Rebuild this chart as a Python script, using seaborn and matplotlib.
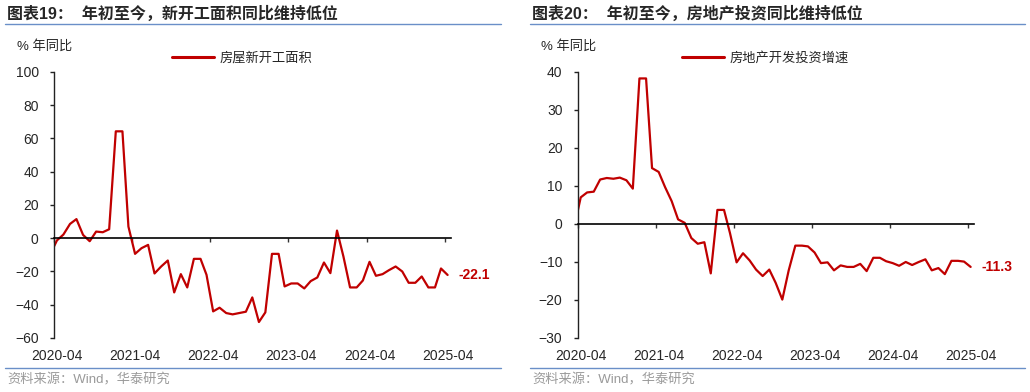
import matplotlib
matplotlib.use("Agg")
import matplotlib.pyplot as plt
import matplotlib.dates as mdates
import matplotlib.transforms as mtransforms
from matplotlib.lines import Line2D
import numpy as np
import pandas as pd
import seaborn as sns

# monthly single-month yoy, Jan/Feb share the combined value
months = pd.date_range("2020-03-01", "2025-04-01", freq="MS")

new_starts = [
    -9.5, -1.3, 2.2, 8.6, 11.5, 2.0, -1.8, 4.0, 3.6, 5.4,
    64.3, 64.3, 7.0, -9.4, -6.0, -4.0, -21.2, -17.0, -13.4, -32.6,
    -21.6, -29.6, -12.4, -12.4, -22.0, -44.0, -41.8, -45.0, -45.8, -45.0,
    -44.2, -35.6, -50.4, -44.6, -9.4, -9.4, -29.0, -27.2, -27.2, -30.2,
    -25.8, -23.6, -14.6, -21.0, 4.6, -11.0, -29.6, -29.6, -25.4, -14.2,
    -22.6, -21.6, -19.2, -17.0, -20.0, -26.8, -26.8, -23.0, -29.6, -29.6,
    -18.2, -22.1,
]

investment = [
    -1.0, 7.0, 8.3, 8.5, 11.7, 12.1, 11.9, 12.2, 11.5, 9.3,
    38.3, 38.3, 14.7, 13.7, 9.7, 6.0, 1.2, 0.3, -3.7, -5.2,
    -4.8, -13.0, 3.7, 3.7, -2.4, -10.1, -7.7, -9.6, -12.0, -13.7,
    -12.0, -15.5, -19.9, -12.2, -5.7, -5.7, -5.9, -7.5, -10.3, -10.1,
    -12.2, -10.9, -11.3, -11.3, -10.5, -12.4, -8.9, -8.9, -9.8, -10.3,
    -11.0, -10.0, -10.8, -10.0, -9.3, -12.2, -11.6, -13.2, -9.7, -9.7,
    -9.9, -11.3,
]

tick_years = [2020, 2021, 2022, 2023, 2024, 2025]
tick_labels = ["2020-04", "2021-04", "2022-04", "2023-04", "2024-04", "2025-04"]

RED = "#C00000"
BLUE = "#6A8FC8"

sns.set_style("white")
plt.rcParams["font.family"] = ["Liberation Sans", "Noto Sans CJK SC"]


def draw_panel(ax, values, label, yticks, legend_x):
    df = pd.DataFrame({"date": months + pd.Timedelta(days=14), "value": values})
    sns.lineplot(data=df, x="date", y="value", ax=ax, color=RED,
                 linewidth=1.6, label=label)

    ax.set_xlim(pd.Timestamp("2020-04-01"), pd.Timestamp("2025-05-01"))
    ax.set_ylim(yticks[0], yticks[-1])
    ax.set_yticks(yticks)
    ax.set_xlabel("")
    ax.set_ylabel("")

    ticks = [pd.Timestamp(f"{y}-04-01") for y in tick_years]
    ax.set_xticks(ticks)
    ax.tick_params(axis="x", length=3, width=1, direction="out",
                   labelbottom=False, color="#333333", bottom=True)
    ax.tick_params(axis="y", length=3, width=1, direction="out",
                   pad=8, labelsize=10, color="#222222", left=True)

    for s in ["top", "right"]:
        ax.spines[s].set_visible(False)
    ax.spines["bottom"].set_position(("data", 0))
    ax.spines["bottom"].set_color("black")
    ax.spines["bottom"].set_linewidth(1.2)
    ax.spines["left"].set_color("#222222")
    ax.spines["left"].set_linewidth(1.0)

    trans = mtransforms.blended_transform_factory(ax.transData, ax.transAxes)
    for t, lab in zip(ticks, tick_labels):
        ax.text(mdates.date2num(t + pd.Timedelta(days=14)), -0.068, lab,
                transform=trans, ha="center", va="center", fontsize=10)

    ax.annotate(f"{values[-1]:.1f}",
                xy=(mdates.date2num(df["date"].iloc[-1]), values[-1]),
                xytext=(8, 0), textcoords="offset points",
                ha="left", va="center", color=RED, fontsize=10,
                fontweight="bold", annotation_clip=False)

    leg = ax.legend(loc="center left", bbox_to_anchor=(legend_x, 1.053),
                    frameon=False, fontsize=9.5, handlelength=3.2,
                    handletextpad=0.4, borderpad=0, borderaxespad=0)
    leg.get_lines()[0].set_linewidth(2.2)


fig = plt.figure(figsize=(10.3, 3.92), dpi=100)
ax1 = fig.add_axes([0.0524, 0.1378, 0.3855, 0.6786])
ax2 = fig.add_axes([0.5609, 0.1378, 0.3848, 0.6786])

draw_panel(ax1, new_starts, "房屋新开工面积", [-60, -40, -20, 0, 20, 40, 60, 80, 100], 0.297)
draw_panel(ax2, investment, "房地产开发投资增速", [-30, -20, -10, 0, 10, 20, 30, 40], 0.263)

# titles, rules, unit notes and sources
for x0, x1, title in [(5, 501, "图表19：  年初至今，新开工面积同比维持低位"),
                      (530, 1025, "图表20：  年初至今，房地产投资同比维持低位")]:
    fig.text((x0 + 2) / 1030, 1 - 13.5 / 392, title, ha="left", va="center",
             fontsize=11.5, fontweight="bold")
    fig.add_artist(Line2D([x0 / 1030, x1 / 1030], [1 - 24 / 392] * 2,
                          color=BLUE, linewidth=1.0))
    fig.add_artist(Line2D([x0 / 1030, x1 / 1030], [1 - 368 / 392] * 2,
                          color=BLUE, linewidth=1.0))
    fig.text((x0 + 2) / 1030, 1 - 380 / 392, "资料来源：Wind，华泰研究",
             ha="left", va="center", fontsize=9.5, color="#9a9a9a")

fig.text(17 / 1030, 1 - 46 / 392, "% 年同比", ha="left", va="center", fontsize=9.5)
fig.text(541 / 1030, 1 - 46 / 392, "% 年同比", ha="left", va="center", fontsize=9.5)

fig.savefig("out.png", dpi=100)
